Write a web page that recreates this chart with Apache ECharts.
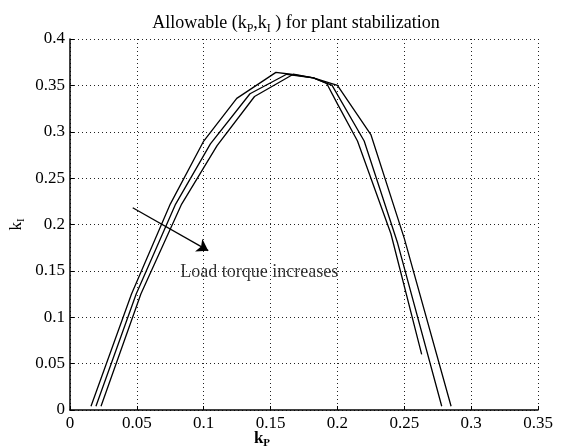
<!DOCTYPE html>
<html>
<head>
<meta charset="utf-8">
<script src="https://cdn.jsdelivr.net/npm/echarts@6/dist/echarts.min.js"></script>
<style>
  html, body { margin: 0; padding: 0; background: #fff; }
  #main { width: 563px; height: 447px; }
</style>
</head>
<body>
<div id="main"></div>
<script>
// curves: [kP, kI]
var curveA = [[0.0157, 0.004], [0.046, 0.125], [0.075, 0.222], [0.1, 0.29], [0.1247, 0.336], [0.154, 0.364], [0.165, 0.362], [0.182, 0.358], [0.192, 0.352], [0.2, 0.33], [0.215, 0.29], [0.24, 0.19], [0.263, 0.06]];
var curveB = [[0.0194, 0.004], [0.0495, 0.125], [0.079, 0.222], [0.105, 0.287], [0.1346, 0.341], [0.162, 0.362], [0.182, 0.358], [0.196, 0.35], [0.22, 0.29], [0.245, 0.18], [0.278, 0.004]];
var curveC = [[0.0232, 0.004], [0.053, 0.125], [0.0835, 0.222], [0.11, 0.285], [0.138, 0.338], [0.167, 0.362], [0.182, 0.358], [0.2, 0.35], [0.225, 0.297], [0.25, 0.185], [0.285, 0.004]];
// arrow + note
var arrowFrom = [0.0469, 0.218];
var arrowTo = [0.1034, 0.1718];
var notePos = [0.0825, 0.149];
var noteText = 'Load torque increases';

var serif = '"Liberation Serif", "DejaVu Serif", serif';

var chart = echarts.init(document.getElementById('main'));

function curve(data) {
  return {
    type: 'line',
    data: data,
    symbol: 'none',
    silent: true,
    lineStyle: { color: '#000', width: 1.3 }
  };
}

chart.setOption({
  backgroundColor: '#fff',
  animation: false,
  title: {
    text: 'Allowable (k{s|P},k{s|I} ) for plant stabilization',
    left: 291,
    textAlign: 'center',
    top: 6,
    textStyle: {
      fontFamily: serif, fontSize: 18, fontWeight: 'normal', color: '#000',
      rich: {
        s: { fontFamily: serif, fontSize: 12, color: '#000', padding: [12, 0, 0, 0] }
      }
    }
  },
  grid: { left: 70, right: 25, top: 39, bottom: 37, outerBoundsMode: 'none' },
  xAxis: {
    type: 'value', min: 0, max: 0.35, interval: 0.05,
    name: 'k{s|P}', nameLocation: 'middle', nameGap: 18, nameMoveOverlap: false,
    nameTextStyle: {
      fontFamily: serif, fontSize: 17, fontWeight: 'bold', color: '#000', padding: [0, 84, 0, 0],
      rich: { s: { fontFamily: serif, fontSize: 11, fontWeight: 'bold', color: '#000', padding: [10, 0, 0, 0] } }
    },
    axisLine: { lineStyle: { color: '#000', width: 1.5 } },
    axisTick: { inside: true, length: 4, lineStyle: { color: '#000' } },
    axisLabel: { fontFamily: serif, fontSize: 17, color: '#000', margin: 5 },
    splitLine: { show: true, lineStyle: { color: '#222', type: [1, 3], width: 1 } }
  },
  yAxis: {
    type: 'value', min: 0, max: 0.4, interval: 0.05,
    name: 'k{s|I}', nameLocation: 'middle', nameGap: 43, nameRotate: 90, nameMoveOverlap: false,
    nameTextStyle: {
      fontFamily: serif, fontSize: 17, color: '#000',
      rich: { s: { fontFamily: serif, fontSize: 11, color: '#000', padding: [10, 0, 0, 0] } }
    },
    axisLine: { show: true, lineStyle: { color: '#000', width: 1.5 } },
    axisTick: { show: true, inside: true, length: 4, lineStyle: { color: '#000' } },
    axisLabel: { fontFamily: serif, fontSize: 17, color: '#000', margin: 5 },
    splitLine: { show: true, lineStyle: { color: '#222', type: [1, 3], width: 1 } }
  },
  series: [
    curve(curveA),
    curve(curveB),
    Object.assign(curve(curveC), {
      markLine: {
        silent: true,
        symbol: ['none', 'arrow'],
        symbolSize: 11,
        label: { show: false },
        lineStyle: { color: '#000', type: 'solid', width: 1.3 },
        data: [[{ coord: arrowFrom }, { coord: arrowTo }]]
      }
    }),
    {
      type: 'scatter',
      data: [notePos],
      symbolSize: 0,
      silent: true,
      label: {
        show: true, position: 'right', distance: 0,
        formatter: noteText,
        fontFamily: serif, fontSize: 18, color: '#000'
      }
    }
  ]
});
</script>
</body>
</html>
